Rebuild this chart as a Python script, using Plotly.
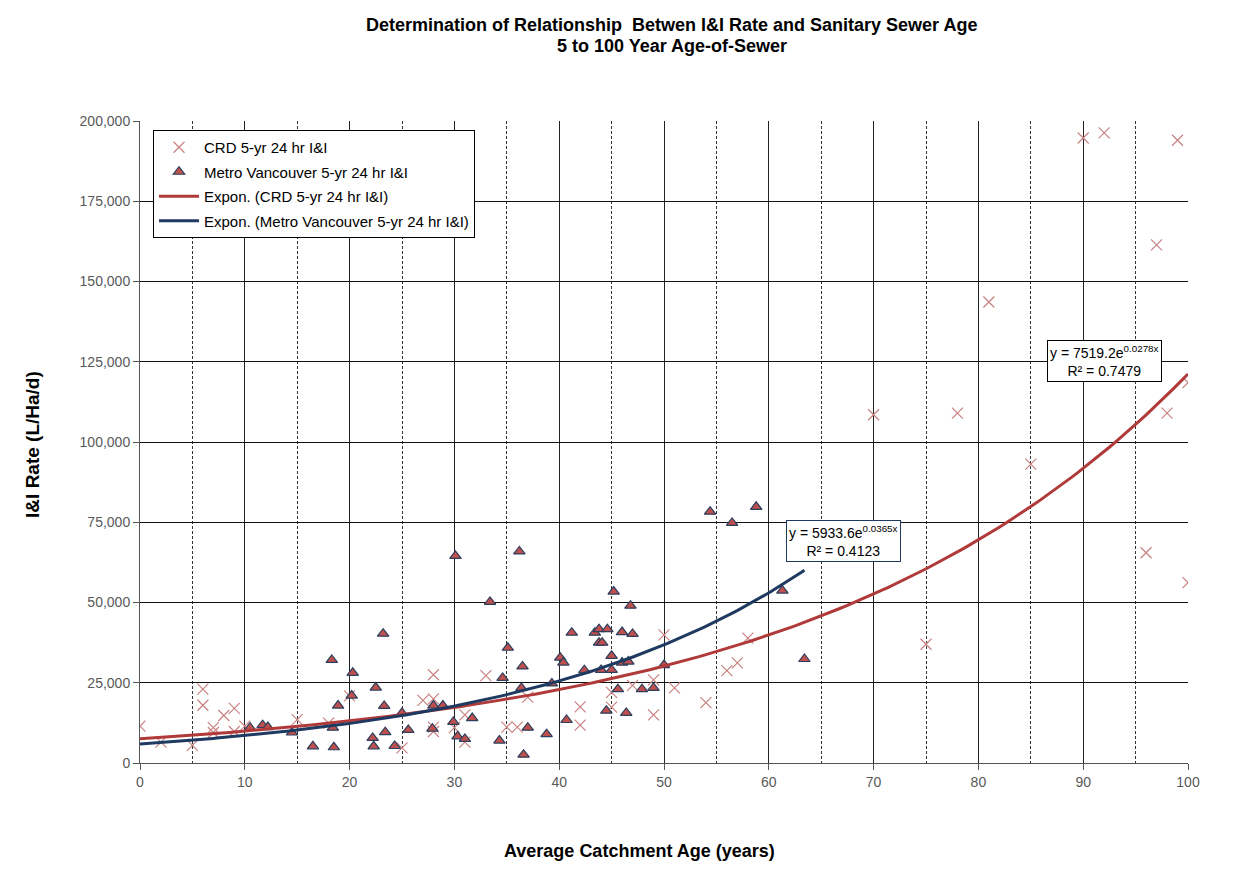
import numpy as np
import plotly.graph_objects as go

# CRD 5-yr 24 hr I&I observations (age in years, I&I rate in L/Ha/d)
crd_age = [0, 2, 5, 6, 6, 7, 7, 8, 9, 9, 10, 15, 18, 20, 25, 27, 28, 28, 28, 28,
           30, 31, 31, 33, 35, 36, 37, 42, 42, 45, 45, 47, 49, 49, 50, 51, 54,
           56, 57, 58, 70, 75, 78, 81, 85, 90, 92, 96, 97, 98, 99, 100, 100]
crd_rate = [11500, 6500, 5500, 23000, 18000, 11000, 9500, 14800, 17000, 9800,
            11500, 13500, 12400, 20900, 4700, 19500, 20000, 27500, 11200, 9800,
            11000, 15000, 6500, 27200, 11200, 11200, 20500, 17500, 11800, 22000,
            17400, 24200, 25900, 15000, 39900, 23400, 18800, 28800, 31200, 38900,
            108500, 37000, 109000, 143600, 93100, 194700, 196300, 65500, 161400,
            109000, 194000, 118500, 56200]

# Metro Vancouver 5-yr 24 hr I&I observations
mv_age = [10.5, 11.7, 12.2, 14.5, 16.5, 18.3, 18.4, 18.5, 18.9, 20.2, 20.3, 22.2,
          22.3, 22.5, 23.2, 23.3, 23.4, 24.3, 25.0, 25.6, 27.9, 28.0, 28.9, 29.9,
          30.1, 30.3, 31.0, 31.7, 33.4, 34.3, 34.6, 35.1, 36.2, 36.4, 36.5, 36.6,
          37.0, 38.8, 39.3, 40.1, 40.4, 40.7, 41.2, 42.4, 43.4, 43.8, 43.8, 44.1,
          44.0, 44.5, 44.6, 45.0, 45.0, 45.2, 45.6, 46.0, 46.0, 46.4, 46.6, 46.8,
          47.0, 47.9, 49.0, 50.0, 54.4, 56.5, 58.8, 61.3, 63.4]
mv_rate = [11000, 11800, 11200, 9500, 5200, 32100, 11000, 4900, 17900, 21000,
           28100, 7800, 5200, 23500, 40300, 17800, 9600, 5300, 15600, 10300,
           10700, 17900, 17900, 12800, 64500, 8300, 7500, 14000, 50200, 7000,
           26500, 35900, 65900, 23400, 30100, 2600, 11000, 9000, 24800, 32800,
           31300, 13400, 40600, 28900, 40600, 41700, 37500, 37500, 29000, 16300,
           41700, 33400, 29000, 53400, 23000, 40800, 31300, 15600, 31600, 49000,
           40200, 23000, 23400, 30500, 78300, 74800, 79800, 53700, 32400]

# Exponential trendline coefficients: y = a * exp(b * x)
crd_a, crd_b, crd_r2 = 7519.2, 0.0278, 0.7479
mv_a, mv_b, mv_r2 = 5933.6, 0.0365, 0.4123

crd_fit_x = np.linspace(0, max(crd_age), 200)
crd_fit_y = crd_a * np.exp(crd_b * crd_fit_x)
mv_fit_x = np.linspace(0, max(mv_age), 200)
mv_fit_y = mv_a * np.exp(mv_b * mv_fit_x)

FONT = "Arial, Liberation Sans, sans-serif"
RED_LINE = "#b03a3a"
BLUE_LINE = "#1f3a60"

fig = go.Figure()

fig.add_trace(go.Scatter(
    x=crd_age, y=crd_rate, mode="markers", name="CRD 5-yr 24 hr I&I",
    legendgroup="a",
    marker=dict(symbol="x-thin-open", size=11,
                line=dict(color="#c98282", width=1.2), color="#c98282"),
))
fig.add_trace(go.Scatter(
    x=mv_age, y=mv_rate, mode="markers", name="Metro Vancouver 5-yr 24 hr I&I",
    legendgroup="b",
    marker=dict(symbol="triangle-up", size=10, color="#c0504d",
                line=dict(color="#2b3f5e", width=1.2)),
))
fig.add_trace(go.Scatter(
    x=crd_fit_x, y=crd_fit_y, mode="lines", name="Expon. (CRD 5-yr 24 hr I&I)",
    legendgroup="c",
    line=dict(color=RED_LINE, width=3),
))
fig.add_trace(go.Scatter(
    x=mv_fit_x, y=mv_fit_y, mode="lines",
    name="Expon. (Metro Vancouver 5-yr 24 hr I&I)",
    legendgroup="d",
    line=dict(color=BLUE_LINE, width=3),
))

# Trendline equation boxes
fig.add_annotation(
    x=67.1, y=69200, xref="x", yref="y", showarrow=False,
    text=f"y = {mv_a}e<sup>{mv_b}x</sup><br>R² = {mv_r2}",
    font=dict(family=FONT, size=14, color="#000"),
    bgcolor="white", bordercolor="#1f3a60", borderwidth=1, borderpad=2,
)
fig.add_annotation(
    x=92.0, y=125200, xref="x", yref="y", showarrow=False,
    text=f"y = {crd_a}e<sup>{crd_b}x</sup><br>R² = {crd_r2}",
    font=dict(family=FONT, size=14, color="#000"),
    bgcolor="white", bordercolor="#000", borderwidth=1, borderpad=2,
)

# Two-line chart title
fig.add_annotation(
    x=0.5076, y=1.1495, xref="paper", yref="paper", showarrow=False,
    xanchor="center", yanchor="middle",
    text="<b>Determination of Relationship  Betwen I&I Rate and Sanitary Sewer Age</b>",
    font=dict(family=FONT, size=18, color="#000"),
)
fig.add_annotation(
    x=0.5076, y=1.1168, xref="paper", yref="paper", showarrow=False,
    xanchor="center", yanchor="middle",
    text="<b>5 to 100 Year Age-of-Sewer</b>",
    font=dict(family=FONT, size=18, color="#000"),
)

# Axis titles
fig.add_annotation(
    x=0.477, y=-0.137, xref="paper", yref="paper", showarrow=False,
    xanchor="center", yanchor="middle",
    text="<b>Average Catchment Age (years)</b>",
    font=dict(family=FONT, size=18, color="#000"),
)
fig.add_annotation(
    x=-0.1021, y=0.497, xref="paper", yref="paper", showarrow=False,
    xanchor="center", yanchor="middle", textangle=-90,
    text="<b>I&I Rate (L/Ha/d)</b>",
    font=dict(family=FONT, size=19, color="#000"),
)

fig.update_layout(
    width=1254, height=874,
    margin=dict(l=140, r=66, t=121, b=111),
    paper_bgcolor="white", plot_bgcolor="white",
    font=dict(family=FONT, size=14, color="#000"),
    legend=dict(
        x=0.0124, y=0.986, xanchor="left", yanchor="top",
        bgcolor="white", bordercolor="#000", borderwidth=1,
        font=dict(family=FONT, size=15, color="#000"),
        traceorder="grouped", tracegroupgap=2, itemwidth=40,
    ),
    showlegend=True,
)

fig.update_xaxes(
    range=[0, 100], dtick=10, tick0=0,
    showgrid=True, gridcolor="#222", gridwidth=1,
    minor=dict(dtick=5, tick0=0, showgrid=True, gridcolor="#333",
               griddash="3px,2px", gridwidth=1),
    ticks="outside", ticklen=6, tickcolor="#555",
    showline=True, linecolor="#555", linewidth=1,
    zeroline=False,
    tickfont=dict(family=FONT, size=14, color="#595959"),
)
fig.update_yaxes(
    range=[0, 200000], dtick=25000, tick0=0, tickformat=",d",
    showgrid=True, gridcolor="#111", gridwidth=1,
    ticks="outside", ticklen=6, tickcolor="#555",
    showline=True, linecolor="#555", linewidth=1,
    zeroline=False,
    tickfont=dict(family=FONT, size=14, color="#595959"),
)

fig.write_html("out.html")
